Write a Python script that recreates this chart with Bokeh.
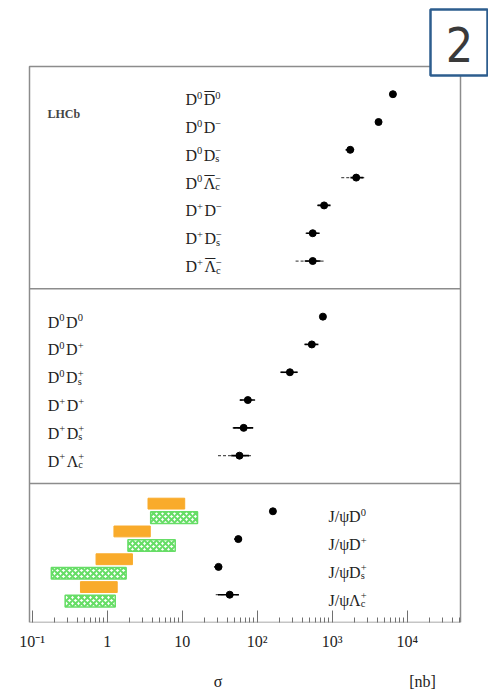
import numpy as np
from bokeh.plotting import figure
from bokeh.models import (Range1d, FixedTicker, BoxAnnotation, Label, ColumnDataSource, LogAxis)
from bokeh.core.properties import value
from bokeh.embed import file_html
from bokeh.resources import INLINE

# ---------------- data (cross-sections in nb) ----------------
# "~" marks an overlined (anti-) particle letter
top_labels = ["D^{0}~D^{0}", "D^{0}D^{\u2212}", "D^{0}D_{s}^{\u2212}", "D^{0}~\u039b_{c}^{\u2212}",
              "D^{+}D^{\u2212}", "D^{+}D_{s}^{\u2212}", "D^{+}~\u039b_{c}^{\u2212}"]
top_sigma = [6450, 4150, 1740, 2090, 780, 550, 550]
top_stat_lo = [6050, 3850, 1520, 1750, 640, 450, 430]
top_stat_hi = [6900, 4450, 1960, 2600, 950, 680, 700]
top_tot_lo = [6000, 3800, 1500, 1320, 630, 440, 325]
top_tot_hi = [6950, 4500, 1980, 2830, 970, 690, 795]

mid_labels = ["D^{0}D^{0}", "D^{0}D^{+}", "D^{0}D_{s}^{+}", "D^{+}D^{+}", "D^{+}D_{s}^{+}", "D^{+}\u039b_{c}^{+}"]
mid_sigma = [752, 535, 273, 75, 66, 58]
mid_stat_lo = [715, 430, 205, 59, 48, 45]
mid_stat_hi = [790, 655, 345, 93, 88, 78]
mid_tot_lo = [710, 425, 204, 58, 47, 30]
mid_tot_hi = [795, 660, 347, 94, 89, 85]

bot_labels = ["J/\u03c8D^{0}", "J/\u03c8D^{+}", "J/\u03c8D_{s}^{+}", "J/\u03c8\u039b_{c}^{+}"]
bot_sigma = [162, 56, 30.5, 43]
bot_stat_lo = [152, 50, 27, 30]
bot_stat_hi = [172, 62, 34, 57]
bot_tot_lo = [150, 49, 26.5, 28]
bot_tot_hi = [174, 63, 34.5, 59]

# model predictions (orange band and green hatched band), nb
pred1_lo = [3.5, 1.23, 0.71, 0.44]
pred1_hi = [10.8, 3.75, 2.17, 1.36]
pred2_lo = [3.8, 1.89, 0.18, 0.275]
pred2_hi = [16.0, 8.07, 1.79, 1.28]

tick_values = [0.1, 1, 10, 100, 1000, 10000]
tick_labels = ["10\u207b\u00b9", "1", "10", "10\u00b2", "10\u00b3", "10\u2074"]
title_values = [30, 16000]
title_labels = ["\u03c3", "[nb]"]

# ---------------- layout ----------------
W_PX, H_PX = 488, 692
BOX_L, BOX_R, BOX_T, BOX_B = 29, 460, 66, 623   # chart box in page pixels
DEC = 75.0                                      # pixels per decade
X0 = 31.7                                       # pixel of 10^-1
ROW = (BOX_B - BOX_T) / 20.0                    # pixels per row unit


def px2x(px):
    return 10 ** (-1 + (px - X0) / DEC)


xs, xe = px2x(0), px2x(W_PX)
bx0, bx1 = px2x(BOX_L), px2x(BOX_R)

top_rows = np.arange(1, 8)
mid_rows = np.arange(9, 15)
bot_rows = np.arange(16, 20)

p = figure(width=W_PX, height=H_PX, x_axis_type="log", output_backend="svg",
           toolbar_location=None, x_range=Range1d(xs, xe),
           y_range=Range1d(20, -BOX_T / ROW), y_axis_location=None,
           min_border_left=0, min_border_right=0, min_border_top=0,
           min_border_bottom=H_PX - BOX_B)
p.xgrid.visible = False
p.ygrid.visible = False
p.outline_line_color = None
p.background_fill_color = "white"
p.border_fill_color = "white"

minor = [m * 10.0 ** e for e in range(-2, 5) for m in range(2, 10) if bx0 < m * 10.0 ** e < bx1]
ax = p.xaxis[0]
ax.ticker = FixedTicker(ticks=tick_values, minor_ticks=minor)
ax.major_label_overrides = {v: t for v, t in zip(tick_values, tick_labels)}
ax.major_tick_in = 12
ax.major_tick_out = 0
ax.minor_tick_in = 5
ax.minor_tick_out = 0
ax.major_tick_line_color = "#707070"
ax.minor_tick_line_color = "#707070"
ax.axis_line_color = None
ax.major_label_text_font = "Liberation Serif"
ax.major_label_text_font_size = "16px"
ax.major_label_text_color = "#222222"
ax.major_label_standoff = 10

ax2 = LogAxis(ticker=FixedTicker(ticks=title_values, minor_ticks=[]),
              major_label_overrides={v: t for v, t in zip(title_values, title_labels)},
              major_tick_in=0, major_tick_out=0, minor_tick_in=0, minor_tick_out=0,
              axis_line_color=None, major_tick_line_color=None,
              major_label_text_font="Liberation Serif", major_label_text_font_size="16px",
              major_label_text_color="#222222", major_label_standoff=20)
p.add_layout(ax2, "below")

# chart box and panel dividers
p.quad(left=[bx0], right=[bx1], top=[0], bottom=[20], fill_color=None,
       line_color="#8c8c8c", line_width=1.5)
p.segment(x0=[bx0, bx0], x1=[bx1, bx1], y0=[8, 15], y1=[8, 15], line_color="#8c8c8c", line_width=1.5)

# prediction bands
p.quad(left=pred1_lo, right=pred1_hi, top=bot_rows - 0.47, bottom=bot_rows - 0.08,
       fill_color="#f9ab2b", line_color="#f9ab2b")
p.quad(left=pred2_lo, right=pred2_hi, top=bot_rows + 0.02, bottom=bot_rows + 0.44,
       fill_color="white", line_color="#66dd66", line_width=1.5,
       hatch_pattern="x", hatch_color="#66dd66", hatch_scale=6, hatch_weight=2)

# measurements
for sig, slo, shi, tlo, thi, rows in [
        (top_sigma, top_stat_lo, top_stat_hi, top_tot_lo, top_tot_hi, top_rows),
        (mid_sigma, mid_stat_lo, mid_stat_hi, mid_tot_lo, mid_tot_hi, mid_rows),
        (bot_sigma, bot_stat_lo, bot_stat_hi, bot_tot_lo, bot_tot_hi, bot_rows)]:
    p.segment(x0=tlo, x1=thi, y0=rows, y1=rows, line_color="#555555", line_width=1.2, line_dash="3 2")
    p.segment(x0=slo, x1=shi, y0=rows, y1=rows, line_color="black", line_width=1.6)
    p.scatter(x=sig, y=rows, size=7, color="black")

# ---------------- labels with super/subscripts ----------------
ADV = {"D": 0.722, "\u039b": 0.722, "J": 0.389, "/": 0.278, "\u03c8": 0.62, "0": 0.5,
       "+": 0.564, "\u2212": 0.7, "s": 0.389, "c": 0.444}
BS, SS, OS = 16, 10.5, 20


def parse(lbl):
    out = []
    x = 0.0
    i = 0
    bar = False
    while i < len(lbl):
        c = lbl[i]
        if c == "~":
            bar = True
            i += 1
        elif c in "^_":
            adv = 0.0
            while i < len(lbl) and lbl[i] in "^_":
                k = lbl[i]
                j = lbl.index("}", i)
                t = lbl[i + 2:j]
                out.append((t, k, x))
                adv = max(adv, sum(ADV.get(ch, 0.5) for ch in t) * SS)
                i = j + 1
            x += adv + 1.5
        else:
            w = ADV.get(c, 0.6) * BS
            out.append((c, "b", x))
            if bar:
                out.append(("\u00af", "o", x + (w - 0.5 * OS) / 2))
                bar = False
            x += w
            i += 1
    return out


groups = {k: dict(x=[], y=[], t=[], dx=[]) for k in "b^_o"}
anchors = [(top_labels, top_rows, px2x(185)),
           (mid_labels, mid_rows, px2x(47.3)),
           (bot_labels, bot_rows, px2x(328))]
for labels, rows, xa in anchors:
    for lbl, r in zip(labels, rows):
        for t, k, dx in parse(lbl):
            g = groups[k]
            g["x"].append(xa)
            g["y"].append(r)
            g["t"].append(t)
            g["dx"].append(dx)

font = value("Liberation Serif")
common = dict(x="x", y="y", text="t", x_offset="dx", text_font=font, text_color="#222222",
              text_baseline="alphabetic")
p.text(y_offset=5.5, source=ColumnDataSource(groups["b"]), text_font_size="16px", **common)
p.text(y_offset=1.0, source=ColumnDataSource(groups["^"]), text_font_size="10.5px", **common)
p.text(y_offset=9.0, source=ColumnDataSource(groups["_"]), text_font_size="10.5px", **common)
p.text(y_offset=6.0, source=ColumnDataSource(groups["o"]), text_font_size="20px", **common)

p.add_layout(Label(x=px2x(47), y=1.7, text="LHCb", text_font="Liberation Serif",
                   text_font_size="12px", text_font_style="bold", text_color="#444444",
                   text_baseline="middle"))

# page number box (screen units are relative to the frame's bottom-left corner)
p.add_layout(BoxAnnotation(left=430, right=487, top=BOX_B - 10, bottom=BOX_B - 76,
                           left_units="screen", right_units="screen", top_units="screen",
                           bottom_units="screen", fill_color="white", fill_alpha=1.0,
                           line_color="#2d5d8e", line_width=2.5, line_alpha=1.0))
p.add_layout(Label(x=459, y=BOX_B - 45, x_units="screen", y_units="screen", text="2",
                   text_font="'Liberation Sans Narrow', 'DejaVu Sans Condensed', Roboto",
                   text_font_size="48px", text_color="#3a3a3a",
                   text_align="center", text_baseline="middle"))

open("out.html", "w").write(file_html(p, INLINE))
